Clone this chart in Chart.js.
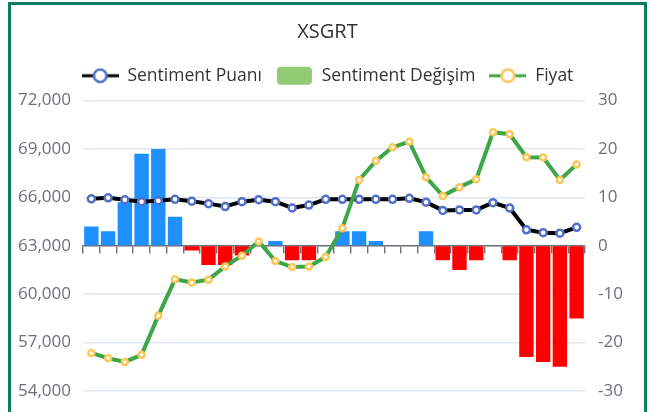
<!DOCTYPE html>
<html lang="tr">
<head>
<meta charset="UTF-8">
<title>XSGRT</title>
<script src="https://cdn.jsdelivr.net/npm/chart.js"></script>
<style>
  html, body { margin: 0; padding: 0; background: #fff; overflow: hidden; }
  #frame { position: absolute; left: 8px; top: 2px; width: 633px; height: 430px; border: 3px solid #0b7d5c; }
  #chart { display: block; }
</style>
</head>
<body>
<div id="frame"><canvas id="chart" width="633" height="420"></canvas></div>
<script>
// values
const labels = ['1', '2', '3', '4', '5', '6', '7', '8', '9', '10',
                '11', '12', '13', '14', '15', '16', '17', '18', '19', '20',
                '21', '22', '23', '24', '25', '26', '27', '28', '29', '30'];

const sentimentPuani = [9.7, 9.9, 9.5, 9.1, 9.3, 9.6, 9.2, 8.7, 8.1, 9.1,
                        9.5, 9.1, 7.8, 8.4, 9.6, 9.6, 9.6, 9.6, 9.6, 9.8,
                        9.0, 7.3, 7.4, 7.4, 8.9, 7.8, 3.3, 2.7, 2.6, 3.8];

const sentimentDegisim = [4, 3, 9, 19, 20, 6, -1, -4, -4, -2,
                          0, 1, -3, -3, 0, 3, 3, 1, 0, 0,
                          3, -3, -5, -3, 0, -3, -23, -24, -25, -15];

const fiyat = [56360, 56030, 55800, 56240, 58670, 60920, 60730, 60900, 61720, 62380,
               63270, 62050, 61680, 61720, 62300, 64090, 67080, 68260, 69100, 69450,
               67250, 66090, 66630, 67120, 70030, 69910, 68490, 68470, 67080, 68030];

const priceTicks = {min: 54000, max: 72000, step: 3000};
const changeTicks = {min: -30, max: 30, step: 10};

Chart.defaults.font.family = '"Open Sans", "Noto Sans", sans-serif';

// legend icons: line with hollow circle, and a rounded box
function lineIcon(lineColor, dotColor) {
    const c = document.createElement('canvas');
    c.width = 37; c.height = 18;
    const g = c.getContext('2d');
    g.strokeStyle = lineColor;
    g.lineWidth = 3;
    g.beginPath(); g.moveTo(0, 9); g.lineTo(37, 9); g.stroke();
    g.beginPath(); g.arc(18.5, 9, 6.3, 0, Math.PI * 2);
    g.fillStyle = '#fff'; g.fill();
    g.strokeStyle = dotColor; g.lineWidth = 2.6; g.stroke();
    return c;
}
function boxIcon(color) {
    const c = document.createElement('canvas');
    c.width = 37; c.height = 20;
    const g = c.getContext('2d');
    g.fillStyle = color;
    g.beginPath(); g.roundRect(1, 1, 35, 18, 4); g.fill();
    return c;
}

const icons = [lineIcon('#000', '#5470c6'), boxIcon('#91cc75'), lineIcon('#3da647', '#fac858')];
const legendNames = ['Sentiment Puanı', 'Sentiment Değişim', 'Fiyat'];

const ctx = document.getElementById('chart').getContext('2d');
new Chart(ctx, {
    data: {
        labels: labels,
        datasets: [
            {
                type: 'line',
                label: 'Sentiment Puanı',
                data: sentimentPuani,
                xAxisID: 'x',
                yAxisID: 'yR',
                borderColor: '#000',
                borderWidth: 4,
                pointRadius: 3.5,
                pointBorderWidth: 2.5,
                pointBorderColor: '#5470c6',
                pointBackgroundColor: '#fff',
                tension: 0,
                order: 2
            },
            {
                type: 'bar',
                label: 'Sentiment Değişim',
                data: sentimentDegisim,
                xAxisID: 'x',
                yAxisID: 'yR',
                backgroundColor: sentimentDegisim.map(v => v >= 0 ? '#1e90ff' : '#ff0000'),
                categoryPercentage: 1,
                barPercentage: 0.86,
                order: 3
            },
            {
                type: 'line',
                label: 'Fiyat',
                data: fiyat,
                xAxisID: 'x',
                yAxisID: 'yL',
                borderColor: '#3da647',
                borderWidth: 4,
                pointRadius: 3,
                pointBorderWidth: 2.5,
                pointBorderColor: '#fac858',
                pointBackgroundColor: '#fff',
                tension: 0,
                order: 1
            }
        ]
    },
    options: {
        responsive: false,
        animation: false,
        layout: { padding: { left: 0, right: 0, top: 0, bottom: 34 } },
        plugins: {
            tooltip: { enabled: false },
            title: {
                display: true,
                text: 'XSGRT',
                color: '#333',
                font: { size: 20, weight: 'normal' },
                padding: { top: 15, bottom: 9 }
            },
            legend: {
                display: true,
                labels: {
                    usePointStyle: true,
                    pointStyleWidth: 37,
                    padding: 14,
                    color: '#333',
                    font: { size: 17.5 },
                    generateLabels: () => legendNames.map((name, i) => ({
                        text: name,
                        pointStyle: icons[i],
                        fontColor: '#333',
                        fillStyle: 'transparent',
                        strokeStyle: 'transparent',
                        lineWidth: 0,
                        hidden: false,
                        datasetIndex: i
                    }))
                }
            }
        },
        scales: {
            x: {
                type: 'category',
                position: { yR: 0 },
                offset: true,
                ticks: { display: false },
                grid: { drawOnChartArea: false, drawTicks: true, tickLength: 7, color: '#6E7079', lineWidth: 1.4, offset: true },
                border: { display: true, color: '#6E7079', width: 1.4 }
            },
            // empty spacer between legend and plot
            xTop: {
                type: 'category',
                position: 'top',
                ticks: { display: false },
                grid: { display: false },
                border: { display: false },
                afterFit: s => { s.height = 6; }
            },
            yL: {
                position: 'left',
                min: priceTicks.min,
                max: priceTicks.max,
                ticks: { stepSize: priceTicks.step, padding: 12, color: '#6E7079', font: { size: 17 } },
                grid: { color: '#E0E6F1', lineWidth: 1.4, drawTicks: false },
                border: { display: false },
                afterFit: s => { s.width = 72; }
            },
            yR: {
                position: 'right',
                min: changeTicks.min,
                max: changeTicks.max,
                ticks: { stepSize: changeTicks.step, padding: 13, color: '#6E7079', font: { size: 17 } },
                grid: { drawOnChartArea: false, drawTicks: false },
                border: { display: false },
                afterFit: s => { s.width = 59; }
            }
        }
    }
});
</script>
</body>
</html>
